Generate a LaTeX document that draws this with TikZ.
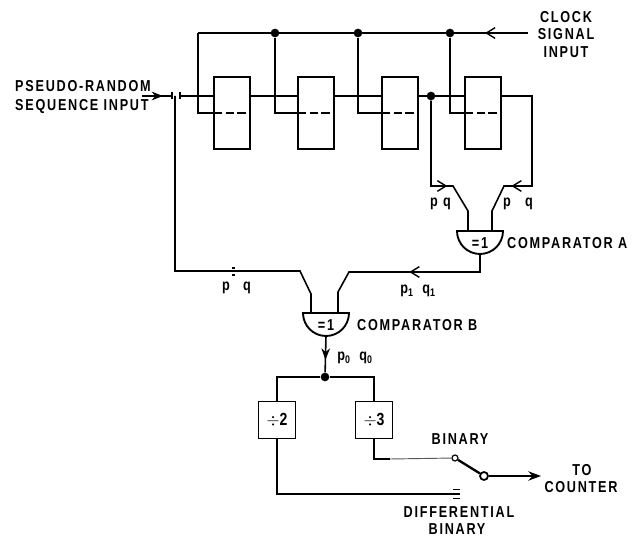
\documentclass[tikz,border=0pt]{standalone}
\usepackage{fontspec}
\usepackage{tikz}
\usetikzlibrary{shapes, shapes.geometric, arrows.meta, decorations.markings}
\newfontfamily\lblfont[LetterSpace=11,FakeStretch=0.8]{Liberation Sans}
\tikzset{
  wire/.style={line width=1.35pt},
  txt/.style={inner sep=0pt, font=\lblfont\bfseries\fontsize{13.5}{16}\selectfont, align=center},
  regbox/.style={draw, line width=1.6pt, minimum width=1.08cm, minimum height=2.16cm, inner sep=0pt, outer sep=0pt},
  divbox/.style={draw, line width=1.6pt, minimum size=1.11cm, inner sep=0pt, outer sep=0pt, font=\lblfont\bfseries\fontsize{15}{16}\selectfont},
  gate/.style={semicircle, draw, line width=1.6pt, shape border rotate=180, minimum width=1.38cm, inner sep=0pt, outer sep=0pt},
  dot/.style={circle, fill, inner sep=0pt, minimum size=2.6mm},
  barb/.style={postaction={decorate, decoration={markings, mark=at position #1 with {\arrow{Straight Barb[length=2.6mm, width=3.2mm, line width=1.2pt]}}}}},
  solidtip/.style={postaction={decorate, decoration={markings, mark=at position #1 with {\arrow{Stealth[length=3.4mm, width=2.6mm]}}}}}
}
\begin{document}
\begin{tikzpicture}[x=0.03cm, y=-0.03cm]
  \useasboundingbox (0,0) rectangle (635,538);
  % shift register stages
  \foreach \n/\x in {A/232,B/316,C/400,D/483} {
    \node[regbox] (reg\n) at (\x,113) {};
    \draw[wire, dashed, dash pattern=on 7pt off 3pt] (reg\n.west) -- (reg\n.east);
    \coordinate (in\n) at (\x-18,96);
    \coordinate (out\n) at (\x+18,96);
  }
  % clock line
  \coordinate (clkin) at (528,33);
  \coordinate (clkend) at (198,33);
  \node[dot] (clkB) at (275,33) {};
  \node[dot] (clkC) at (358,33) {};
  \node[dot] (clkD) at (450,33) {};
  \draw[wire, barb=0.13] (clkin) -- (clkend);
  \draw[wire] (clkend) |- (regA.west);
  \foreach \n in {B,C,D} \draw[wire] (clk\n) |- (reg\n.west);
  % data path
  \coordinate (seqin) at (142,96);
  \coordinate (seqend) at (172,96);
  \coordinate (seqout) at (179,96);
  \draw[wire, solidtip=0.7] (seqin) -- (seqend);
  \draw[wire] (172,92) -- (172,99) (180,92) -- (180,99);
  \draw[wire] (seqout) -- (inA);
  \draw[wire] (outA) -- (inB);
  \draw[wire] (outB) -- (inC);
  \draw[wire] (outC) -- (inD);
  \node[dot] (tap) at (431,96) {};
  % comparator A
  \node[gate, anchor=chord center] (gateA) at (480,231) {};
  \node[txt] (eqA) at (480,243) {=1};
  \coordinate (aL) at (468,231);
  \coordinate (aR) at (492,231);
  \coordinate (feed) at (532,96);
  \draw[wire, barb=0.65] (tap) -- (431,186) -- (453,186) -- (468,211) -- (aL);
  \draw[wire, barb=0.72] (outD) -- (feed) -- (532,186) -- (504,186) -- (492,211) -- (aR);
  % comparator B
  \node[gate, anchor=chord center] (gateB) at (326,313) {};
  \node[txt] (eqB) at (326,325) {=1};
  \coordinate (bL) at (311,313);
  \coordinate (bR) at (338,313);
  \draw[wire] (175,96) -- (175,271) -- (300,271) -- (311,294) -- (bL);
  \draw[wire, barb=0.46] (gateA.apex) -- (480,272) -- (349,272) -- (338,292) -- (bR);
  \draw[wire] (232,268) -- (235,268) (232,275) -- (235,275);
  % dividers
  \node[dot] (split) at (325,377) {};
  \draw[wire, solidtip=0.65] (gateB.apex) -- (split);
  \node[divbox] (divtwo) at (277,420) {$\div$2};
  \node[divbox] (divthree) at (374,420) {$\div$3};
  \draw[wire] (split) -| (divtwo.north);
  \draw[wire] (split) -| (divthree.north);
  % output switch
  \node[circle, draw, line width=1pt, inner sep=0pt, minimum size=1.8mm] (contact) at (455,458) {};
  \node[circle, draw, line width=1.5pt, inner sep=0pt, minimum size=2.4mm] (pole) at (484,476) {};
  \coordinate (bend) at (390,459);
  \coordinate (diffend) at (460,494);
  \coordinate (toctr) at (541,476);
  \draw[wire] (divthree.south) |- (bend);
  \draw[line width=0.8pt, black!65] (bend) -- (contact);
  \draw[line width=2pt] (contact) -- (pole);
  \draw[line width=1.4pt, -{Stealth[length=3.8mm, width=2.8mm]}] (pole) -- (toctr);
  \draw[wire] (divtwo.south) |- (diffend);
  \draw[line width=0.7pt] (453,489) -- (460,489) (453,498) -- (460,498);
  % labels
  \node[txt, anchor=west] (lblrand) at (15,86) {PSEUDO-RANDOM};
  \node[txt, anchor=west] (lblseq) at (15,107) {SEQUENCE INPUT};
  \node[txt] (lblclock) at (566,17) {CLOCK};
  \node[txt] (lblsignal) at (566,34) {SIGNAL};
  \node[txt] (lblinput) at (566,52) {INPUT};
  \node[txt, anchor=west] (lblcompA) at (507,243) {COMPARATOR A};
  \node[txt, anchor=west] (lblcompB) at (357,325) {COMPARATOR B};
  \node[txt] (lblpa) at (434,204) {p};
  \node[txt] (lblqa) at (447,204) {q};
  \node[txt] (lblpb) at (507,204) {p};
  \node[txt] (lblqb) at (529,204) {q};
  \node[txt] (lblp) at (226,288) {p};
  \node[txt] (lblq) at (247,288) {q};
  \node[txt] (lblpone) at (407,291) {p\textsubscript{1}};
  \node[txt] (lblqone) at (429,291) {q\textsubscript{1}};
  \node[txt] (lblpzero) at (344,358) {p\textsubscript{0}};
  \node[txt] (lblqzero) at (366,358) {q\textsubscript{0}};
  \node[txt] (lblbin) at (460,439) {BINARY};
  \node[txt] (lbldiff) at (459,512) {DIFFERENTIAL};
  \node[txt] (lblbintwo) at (457,529) {BINARY};
  \node[txt] (lblto) at (582,470) {TO};
  \node[txt] (lblctr) at (581,487) {COUNTER};
\end{tikzpicture}
\end{document}
